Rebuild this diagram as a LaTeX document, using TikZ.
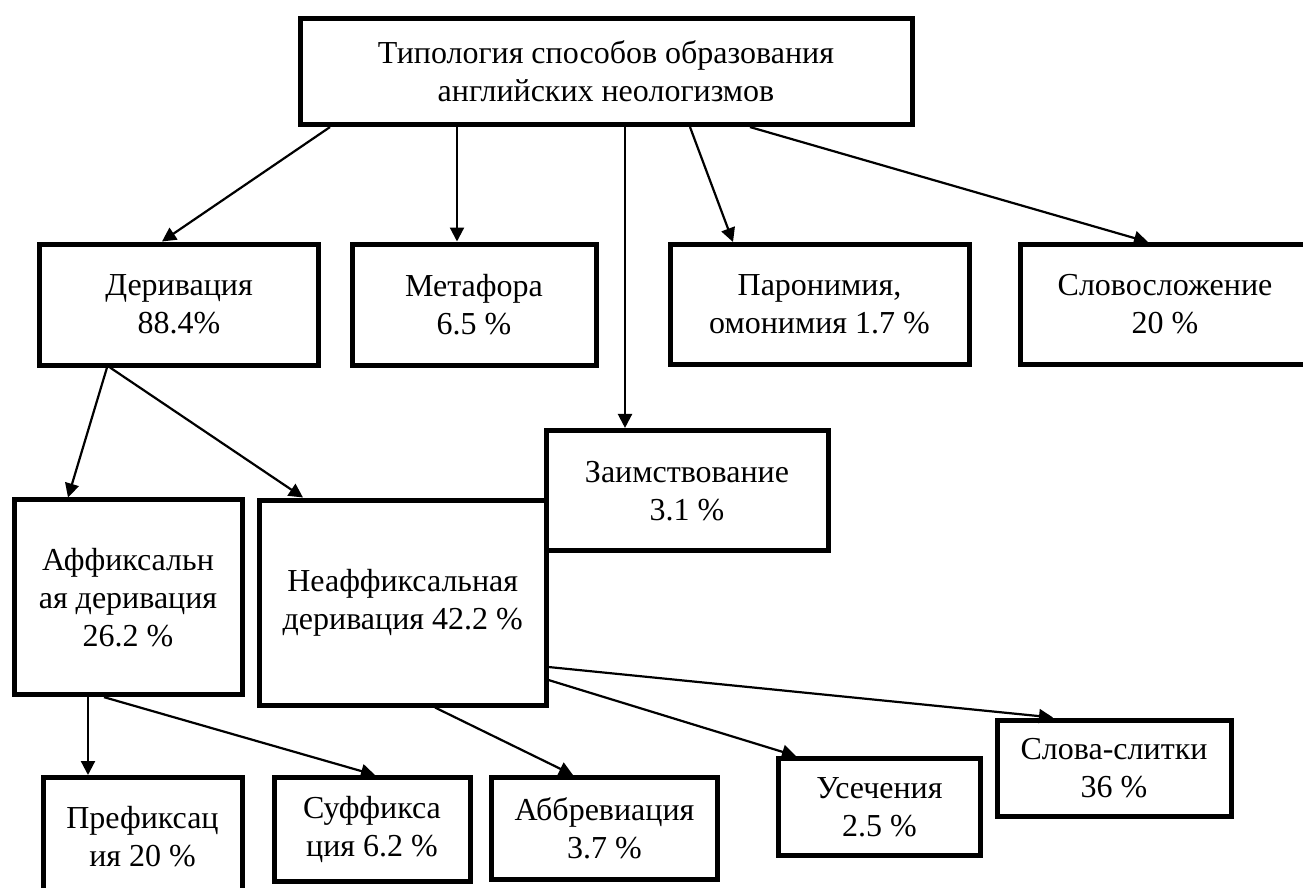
\documentclass[tikz,border=0pt]{standalone}
\usepackage{fontspec}
\setmainfont{Liberation Serif}
\usetikzlibrary{arrows.meta}
\tikzset{
  box/.style={draw, line width=5pt, inner sep=0pt, align=center, fill=white,
    font=\fontsize{32}{38}\selectfont},
  arr/.style={line width=2.2pt, -{Triangle[length=14pt,width=14pt]}},
}
\begin{document}
\begin{tikzpicture}[x=1pt,y=-1pt]
\useasboundingbox (0,0) rectangle (1303,888);
\clip (0,0) rectangle (1303,888);
\node[box, minimum width=612pt, minimum height=106.5pt] (top) at (606,71.3)
  {Типология способов образования\\английских неологизмов};
\node[box, minimum width=278.5pt, minimum height=121pt] (der) at (179,304.5) {Деривация\\88.4\%};
\node[box, minimum width=244pt, minimum height=121pt] (met) at (474,304.5) {Метафора\\6.5 \%};
\node[box, minimum width=299pt, minimum height=120pt] (par) at (819.5,304.5) {Паронимия,\\омонимия 1.7 \%};
\node[box, minimum width=289pt, minimum height=120pt] (slo) at (1165,304.5) {Словосложение\\20 \%};
\node[box, minimum width=282pt, minimum height=120.5pt] (zai) at (687,490.7) {Заимствование\\3.1 \%};
\node[box, minimum width=228pt, minimum height=194.7pt] (aff) at (128,597.3) {Аффиксальн\\ая деривация\\26.2 \%};
\node[box, minimum width=286.5pt, minimum height=205pt] (neaff) at (402.75,602.5) {Неаффиксальная\\деривация 42.2 \%};
\node[box, minimum width=199pt, minimum height=117.5pt] (pre) at (142.5,836.25) {Префиксац\\ия 20 \%};
\node[box, minimum width=196pt, minimum height=103.5pt] (suf) at (372,829.25) {Суффикса\\ция 6.2 \%};
\node[box, minimum width=226pt, minimum height=101.5pt] (abb) at (604.5,828.25) {Аббревиация\\3.7 \%};
\node[box, minimum width=202pt, minimum height=96.5pt] (use) at (879.5,806.75) {Усечения\\2.5 \%};
\node[box, minimum width=234pt, minimum height=96pt] (sli) at (1114,768) {Слова-слитки\\36 \%};

\draw[arr] (330,0 |- top.south) -- (162,0 |- der.north);
\draw[arr] (457,0 |- top.south) -- (457,0 |- met.north);
\draw[arr] (625,0 |- top.south) -- (625,0 |- zai.north);
\draw[arr] (690,0 |- top.south) -- (733,0 |- par.north);
\draw[arr] (750,0 |- top.south) -- (1148,0 |- slo.north);
\draw[arr] (107,0 |- der.south) -- (68,0 |- aff.north);
\draw[arr] (110,0 |- der.south) -- (303,0 |- neaff.north);
\draw[arr] (88,0 |- aff.south) -- (88,0 |- pre.north);
\draw[arr] (104,0 |- aff.south) -- (375,0 |- suf.north);
\draw[arr] (435,0 |- neaff.south) -- (573,0 |- abb.north);
\draw[arr] (neaff.east |- 0,680) -- (796,0 |- use.north);
\draw[arr] (neaff.east |- 0,667) -- (1053,0 |- sli.north);
\end{tikzpicture}
\end{document}
